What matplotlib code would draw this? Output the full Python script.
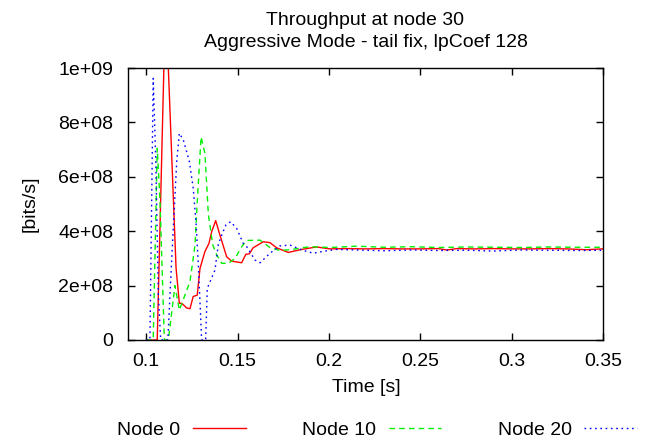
import matplotlib
matplotlib.use("Agg")
import matplotlib.pyplot as plt

# Node 0 (red)
t0 = [0.1000, 0.1060, 0.1100, 0.1115, 0.1163, 0.1181, 0.1194, 0.1221, 0.1239,
      0.1257, 0.1279, 0.1294, 0.1321, 0.1343, 0.1358, 0.1380, 0.1403, 0.1440,
      0.1467, 0.1522, 0.1545, 0.1564, 0.1585, 0.1640, 0.1677, 0.1713, 0.1777,
      0.1850, 0.1932, 0.2005, 0.2100, 0.2200, 0.2300, 0.2400, 0.2500, 0.2600,
      0.2644, 0.2700, 0.2800, 0.2900, 0.3000, 0.3100, 0.3200, 0.3300, 0.3410,
      0.3500]
v0 = [0.0, 0.0, 11.0, 11.0, 2.65, 1.35, 1.35, 1.18, 1.15,
      1.60, 1.65, 2.63, 3.25, 3.55, 3.98, 4.39, 3.86, 3.06,
      2.90, 2.84, 3.15, 3.17, 3.39, 3.61, 3.58, 3.39, 3.22,
      3.33, 3.42, 3.35, 3.36, 3.35, 3.36, 3.35, 3.35, 3.36,
      3.31, 3.36, 3.35, 3.36, 3.35, 3.35, 3.36, 3.35, 3.32,
      3.35]

# Node 10 (green)
t10 = [0.1000, 0.1038, 0.1060, 0.1075, 0.1099, 0.1121, 0.1157, 0.1181, 0.1239,
       0.1267, 0.1279, 0.1300, 0.1321, 0.1340, 0.1364, 0.1386, 0.1413, 0.1449,
       0.1486, 0.1522, 0.1550, 0.1623, 0.1677, 0.1732, 0.1787, 0.1896, 0.2006,
       0.2152, 0.2300, 0.2450, 0.2600, 0.2750, 0.2900, 0.3050, 0.3200, 0.3350,
       0.3500]
v10 = [0.0, 0.0, 7.05, 5.15, 0.0, 0.0, 2.0, 1.1, 2.14,
       3.5, 5.08, 7.47, 6.86, 4.6, 3.5, 3.12, 2.82, 2.82,
       3.0, 3.43, 3.66, 3.67, 3.40, 3.29, 3.32, 3.43, 3.40,
       3.45, 3.41, 3.43, 3.40, 3.42, 3.41, 3.40, 3.42, 3.41,
       3.41]

# Node 20 (blue)
t20 = [0.1000, 0.1020, 0.1038, 0.1052, 0.1066, 0.1079, 0.1118, 0.1139, 0.1167,
       0.1181, 0.1203, 0.1236, 0.1257, 0.1272, 0.1285, 0.1298, 0.1303, 0.1325,
       0.1334, 0.1349, 0.1376, 0.1394, 0.1413, 0.1436, 0.1462, 0.1495, 0.1531,
       0.1550, 0.1595, 0.1623, 0.1677, 0.1732, 0.1787, 0.1851, 0.1914, 0.1978,
       0.2042, 0.2150, 0.2300, 0.2450, 0.2600, 0.2750, 0.2900, 0.3050, 0.3200,
       0.3350, 0.3500]
v20 = [0.0, 0.0, 9.62, 6.6, 1.7, 0.0, 0.0, 2.94, 6.6,
       7.6, 7.35, 6.56, 5.58, 4.35, 2.76, 0.8, 0.0, 0.0,
       1.9, 2.14, 2.57, 3.5, 3.86, 4.23, 4.35, 4.1, 3.55,
       3.43, 2.94, 2.84, 3.19, 3.46, 3.49, 3.31, 3.19, 3.27,
       3.33, 3.31, 3.28, 3.31, 3.29, 3.30, 3.27, 3.31, 3.30,
       3.29, 3.30]

xticks = [0.1, 0.15, 0.2, 0.25, 0.3, 0.35]
xticklabels = ['0.1', '0.15', '0.2', '0.25', '0.3', '0.35']
yticks = [0, 2e8, 4e8, 6e8, 8e8, 1e9]
yticklabels = ['0', '2e+08', '4e+08', '6e+08', '8e+08', '1e+09']

plt.rcParams['font.family'] = ['Liberation Sans', 'DejaVu Sans']
plt.rcParams['font.size'] = 14

W, H = 645, 444
fig = plt.figure(figsize=(6.45, 4.44), dpi=100)
ax = fig.add_axes([128/W, 1-340/H, 475/W, 272/H])

ax.plot(t0, [v*1e8 for v in v0], color='#ff0000', lw=1.0, label='Node 0')
ax.plot(t10, [v*1e8 for v in v10], color='#00f000', lw=1.0, dashes=(4, 3), label='Node 10')
ax.plot(t20, [v*1e8 for v in v20], color='#0000ff', lw=1.0, dashes=(1.2, 2.6), label='Node 20')

ax.set_xlim(0.09, 0.35)
ax.set_ylim(0, 1e9)
ax.set_xticks(xticks)
ax.set_xticklabels(xticklabels)
ax.set_yticks(yticks)
ax.set_yticklabels(yticklabels)
ax.tick_params(direction='in', top=True, right=True, length=5, width=1)
ax.tick_params(axis='x', pad=9)
ax.tick_params(axis='y', pad=10.5)
for s in ax.spines.values():
    s.set_linewidth(1.0)

# labels and title placed like the gnuplot output
fig.text(366/W, 1-388/H, 'Time [s]', ha='center', va='center')
fig.text(30/W, 1-204/H, '[bits/s]', ha='center', va='center', rotation=90)
fig.text(365.5/W, 1-25/H, 'Throughput at node 30', ha='center', va='baseline')
fig.text(365.5/W, 1-47/H, 'Aggressive Mode - tail fix, lpCoef 128',
         ha='center', va='baseline')

fig.legend(loc='center', bbox_to_anchor=(377/W, 1-430/H), ncol=3,
           frameon=False, markerfirst=False, handlelength=2.7,
           handletextpad=0.65, columnspacing=2.9)

plt.savefig('out.png', dpi=100)
